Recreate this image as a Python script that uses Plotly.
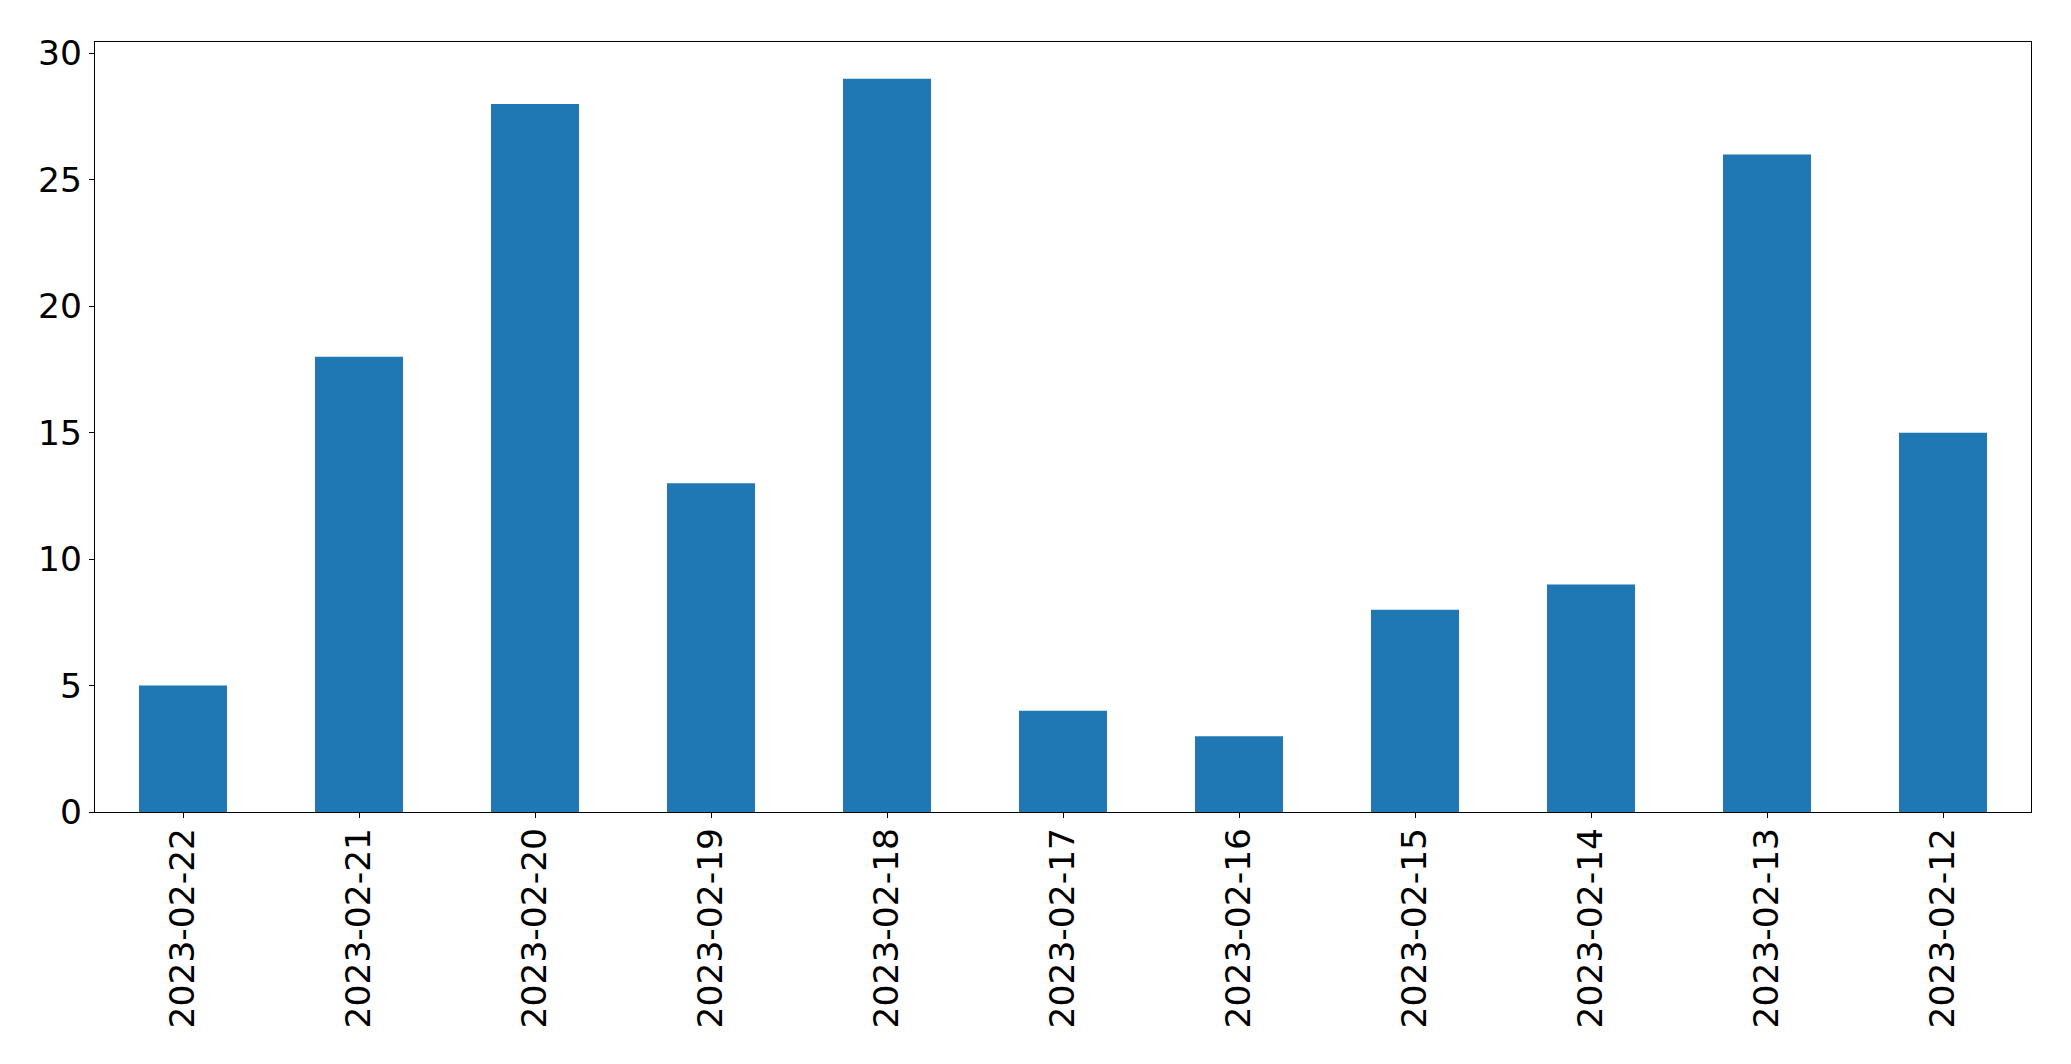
import plotly.graph_objects as go

dates = ["2023-02-22", "2023-02-21", "2023-02-20", "2023-02-19", "2023-02-18",
         "2023-02-17", "2023-02-16", "2023-02-15", "2023-02-14", "2023-02-13", "2023-02-12"]
counts = [5, 18, 28, 13, 29, 4, 3, 8, 9, 26, 15]
y_ticks = [0, 5, 10, 15, 20, 25, 30]

fig = go.Figure(go.Bar(x=list(range(len(dates))), y=counts, width=0.5,
                       marker=dict(color="#1f77b4", line=dict(width=0))))

fig.update_layout(
    width=2063, height=1056,
    margin=dict(l=87, r=40, t=34, b=252),
    paper_bgcolor="white", plot_bgcolor="white",
    font=dict(family="DejaVu Sans", size=34.5, color="black"),
    showlegend=False,
)
fig.update_xaxes(
    range=[-0.5, len(dates) - 0.5],
    tickmode="array", tickvals=list(range(len(dates))), ticktext=dates,
    tickangle=-90, ticks="outside", ticklen=5, tickwidth=1.3, tickcolor="black",
    ticklabelstandoff=-4,
    showline=True, linecolor="black", linewidth=1.3, mirror=True,
    showgrid=False, zeroline=False,
)
fig.update_yaxes(
    range=[0, 30.45], tickmode="array", tickvals=y_ticks,
    ticks="outside", ticklen=5, tickwidth=1.3, tickcolor="black",
    showline=True, linecolor="black", linewidth=1.3, mirror=True,
    showgrid=False, zeroline=False,
)

fig.write_html("out.html")
